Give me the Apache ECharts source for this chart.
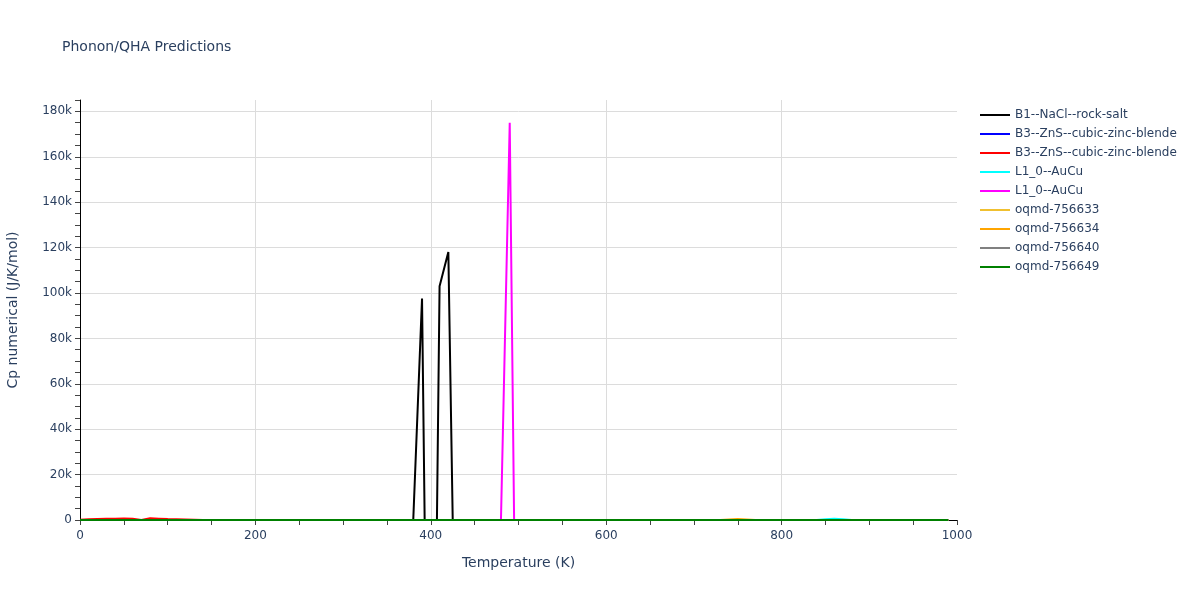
<!DOCTYPE html>
<html><head><meta charset="utf-8">
<script src="https://cdn.jsdelivr.net/npm/echarts@6/dist/echarts.min.js"></script>
<style>html,body{margin:0;padding:0;background:#fff}#c{width:1200px;height:600px}</style>
</head><body><div id="c"></div>
<script>
const seriesNames = ["B1--NaCl--rock-salt","B3--ZnS--cubic-zinc-blende","B3--ZnS--cubic-zinc-blende","L1_0--AuCu","L1_0--AuCu","oqmd-756633","oqmd-756634","oqmd-756640","oqmd-756649"];
const seriesColors = ["#000000","#0000ff","#ff0000","#00ffff","#ff00ff","#f0c030","#ffa500","#808080","#008000"];
// [temperature K, Cp J/K/mol]
const b1NaCl = [[0,0],[100,0],[200,0],[300,0],[380,0],[390,97600],[393,0],[407,0],[410,103000],[420,118000],[425,0],[500,0],[600,0],[700,0],[800,0],[900,0],[990,0]];
const b3ZnSa = [[0,0],[200,0],[400,0],[600,0],[800,0],[990,0]];
const b3ZnSb = [[0,100],[10,300],[20,400],[30,500],[40,600],[50,700],[60,600],[70,0],[80,800],[90,600],[100,400],[110,300],[120,200],[130,100],[140,0],[300,0],[600,0],[990,0]];
const l10AuCuA = [[0,0],[400,0],[840,0],[850,300],[860,600],[870,300],[880,0],[990,0]];
const l10AuCuB = [[0,0],[300,0],[480,0],[490,175000],[495,0],[600,0],[800,0],[990,0]];
const oqmd633 = [[0,0],[300,0],[600,0],[990,0]];
const oqmd634 = [[0,0],[400,0],[730,0],[740,200],[750,400],[760,200],[770,0],[990,0]];
const oqmd640 = [[0,0],[300,0],[600,0],[990,0]];
const oqmd649 = [[0,0],[200,0],[400,0],[600,0],[800,0],[990,0]];
const seriesData = [b1NaCl,b3ZnSa,b3ZnSb,l10AuCuA,l10AuCuB,oqmd633,oqmd634,oqmd640,oqmd649];
const xTicks = {min:0,max:1000,interval:200};
const yTicks = {min:0,max:185000,interval:20000};

const chart = echarts.init(document.getElementById('c'));
const txt = '#2a3f5f';
const font = '"DejaVu Sans", Verdana, sans-serif';
chart.setOption({
  animation:false,
  textStyle:{fontFamily:font},
  title:{text:'Phonon/QHA Predictions',left:57,top:35,textStyle:{fontSize:14,fontWeight:'normal',color:txt,fontFamily:font}},
  legend:{orient:'vertical',left:975,top:104,itemWidth:30,itemHeight:2,itemGap:7,icon:'rect',
    textStyle:{color:txt,fontSize:12,fontFamily:font},
    data:seriesNames.map((n,i)=>({name:n+'#'+i,itemStyle:{color:seriesColors[i]}})),
    formatter:n=>n.split('#')[0]},
  grid:{left:80,right:243,top:100,bottom:80,containLabel:false,outerBoundsMode:'none'},
  xAxis:{type:'value',min:xTicks.min,max:xTicks.max,interval:xTicks.interval,
    name:'Temperature (K)',nameLocation:'middle',nameGap:36,nameTextStyle:{color:txt,fontSize:14,fontFamily:font},
    axisLine:{show:true,onZero:false,lineStyle:{color:'#000'}},
    axisTick:{show:true,length:5,lineStyle:{color:'#444'}},
    minorTick:{show:true,splitNumber:4,length:5,lineStyle:{color:'#444'}},
    axisLabel:{color:txt,fontSize:12,margin:10,fontFamily:font,formatter:v=>String(v)},
    splitLine:{show:true,showMinLine:false,showMaxLine:false,lineStyle:{color:'#dcdcdc'}}},
  yAxis:{type:'value',min:yTicks.min,max:yTicks.max,interval:yTicks.interval,
    name:'Cp numerical (J/K/mol)',nameLocation:'middle',nameGap:60,nameTextStyle:{color:txt,fontSize:14,fontFamily:font},
    axisLine:{show:true,lineStyle:{color:'#000'}},
    axisTick:{show:true,length:5,lineStyle:{color:'#444'}},
    minorTick:{show:true,splitNumber:4,length:5,lineStyle:{color:'#444'}},
    axisLabel:{color:txt,fontSize:12,margin:8,fontFamily:font,formatter:v=>v===0?'0':(v/1000)+'k'},
    splitLine:{show:true,showMinLine:false,showMaxLine:false,lineStyle:{color:'#dcdcdc'}}},
  series:seriesData.map((d,i)=>({name:seriesNames[i]+'#'+i,type:'line',data:d,showSymbol:false,symbol:'none',
    lineStyle:{color:seriesColors[i],width:2},itemStyle:{color:seriesColors[i]},clip:true}))
});
</script></body></html>
